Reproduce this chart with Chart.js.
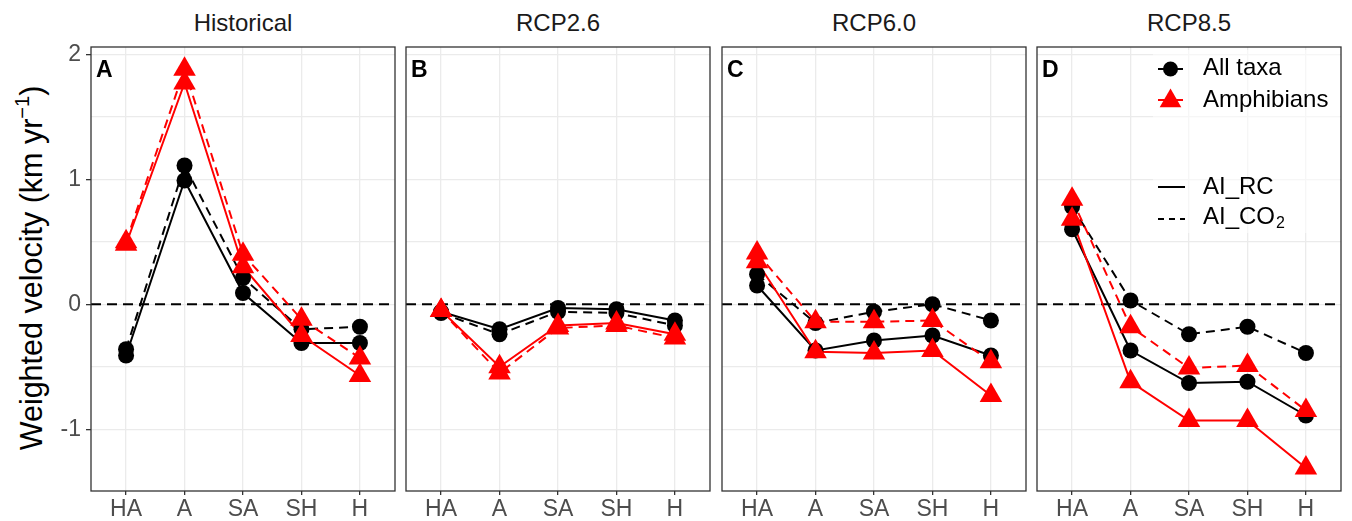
<!DOCTYPE html>
<html>
<head>
<meta charset="utf-8">
<script src="https://cdn.jsdelivr.net/npm/chart.js@4.4.1/dist/chart.umd.min.js"></script>
<style>
html,body{margin:0;padding:0;background:#fff;}
body{width:1352px;height:521px;position:relative;overflow:hidden;font-family:"Liberation Sans",Arial,sans-serif;}
.title{position:absolute;top:10px;font-size:24px;color:#1a1a1a;text-align:center;width:304px;line-height:26px;white-space:nowrap;}
.ylab{position:absolute;left:33px;top:268px;transform:translate(-50%,-50%) rotate(-90deg);font-size:30.5px;white-space:nowrap;color:#000;line-height:36px;}
.ylab .sup{font-size:20px;position:relative;top:-13px;}
canvas{position:absolute;}
</style>
</head>
<body>
<div class="ylab">Weighted velocity (km yr<span class="sup">−1</span>)</div>
<script>
// ---------------- data ----------------
const categories = ['HA', 'A', 'SA', 'SH', 'H'];
const scenarios = ['Historical', 'RCP2.6', 'RCP6.0', 'RCP8.5'];
const panelLetters = ['A', 'B', 'C', 'D'];
const yTickValues = [-1, -0.5, 0, 0.5, 1, 1.5, 2];

// All taxa, AI_RC (solid)
const allTaxaRC_Historical = [-0.41, 0.99, 0.09, -0.31, -0.31];
const allTaxaRC_RCP26      = [-0.06, -0.20, -0.03, -0.04, -0.13];
const allTaxaRC_RCP60      = [0.15, -0.37, -0.29, -0.25, -0.41];
const allTaxaRC_RCP85      = [0.60, -0.37, -0.63, -0.62, -0.89];
// All taxa, AI_CO2 (dashed)
const allTaxaCO2_Historical = [-0.36, 1.11, 0.21, -0.20, -0.18];
const allTaxaCO2_RCP26      = [-0.07, -0.24, -0.06, -0.07, -0.17];
const allTaxaCO2_RCP60      = [0.24, -0.15, -0.06, 0.00, -0.13];
const allTaxaCO2_RCP85      = [0.78, 0.03, -0.24, -0.18, -0.39];
// Amphibians, AI_RC (solid)
const amphRC_Historical = [0.48, 1.77, 0.30, -0.25, -0.57];
const amphRC_RCP26      = [-0.05, -0.50, -0.17, -0.15, -0.24];
const amphRC_RCP60      = [0.34, -0.38, -0.39, -0.37, -0.73];
const amphRC_RCP85      = [0.68, -0.62, -0.93, -0.93, -1.31];
// Amphibians, AI_CO2 (dashed)
const amphCO2_Historical = [0.50, 1.88, 0.40, -0.12, -0.43];
const amphCO2_RCP26      = [-0.05, -0.55, -0.19, -0.17, -0.27];
const amphCO2_RCP60      = [0.41, -0.14, -0.14, -0.13, -0.46];
const amphCO2_RCP85      = [0.84, -0.18, -0.51, -0.49, -0.85];

const legendTaxa = ['All taxa', 'Amphibians'];
const legendMethods = ['AI_RC', 'AI_CO'];

// ---------------- layout / style ----------------
const FONT = '"Liberation Sans", Arial, sans-serif';
const PANEL_LEFT = [91, 406, 722, 1037];
const PANEL_W = 304;
const PANEL_TOP = 47;
const PANEL_BOTTOM = 491;
const CANVAS_TOP = 40;
const RED = '#ff0000', BLACK = '#000000';

const panelSeries = [
  [allTaxaRC_Historical, allTaxaCO2_Historical, amphRC_Historical, amphCO2_Historical],
  [allTaxaRC_RCP26, allTaxaCO2_RCP26, amphRC_RCP26, amphCO2_RCP26],
  [allTaxaRC_RCP60, allTaxaCO2_RCP60, amphRC_RCP60, amphCO2_RCP60],
  [allTaxaRC_RCP85, allTaxaCO2_RCP85, amphRC_RCP85, amphCO2_RCP85]
];
const seriesStyle = [
  {color: BLACK, dash: [], shape: 'circle', r: 8},
  {color: BLACK, dash: [9, 6], shape: 'circle', r: 8},
  {color: RED, dash: [], shape: 'triangle', r: 13},
  {color: RED, dash: [9, 6], shape: 'triangle', r: 13}
];

function toXY(arr) { return arr.map((v, i) => ({x: i, y: v})); }

const panelPlugin = {
  id: 'panelDecor',
  beforeDatasetsDraw(chart) {
    const {ctx, chartArea: a, scales: {y}} = chart;
    const y0 = y.getPixelForValue(0);
    ctx.save();
    ctx.strokeStyle = '#000';
    ctx.lineWidth = 2;
    ctx.setLineDash([10, 6]);
    ctx.beginPath();
    ctx.moveTo(a.left, y0);
    ctx.lineTo(a.right, y0);
    ctx.stroke();
    ctx.restore();
  },
  afterDraw(chart) {
    const {ctx, chartArea: a} = chart;
    const idx = chart.options.plugins.panelDecor.index;
    ctx.save();
    ctx.strokeStyle = '#333333';
    ctx.lineWidth = 1.3;
    ctx.strokeRect(a.left, a.top, a.right - a.left, a.bottom - a.top);
    ctx.fillStyle = '#000';
    ctx.font = 'bold 23px ' + FONT;
    ctx.textBaseline = 'alphabetic';
    ctx.textAlign = 'left';
    ctx.fillText(panelLetters[idx], a.left + 5, a.top + 29.5);
    if (idx === 3) drawLegend(chart);
    ctx.restore();
  }
};

function drawLegend(chart) {
  const {ctx, chartArea: a} = chart;
  const off = chart.canvas.offsetLeft;
  const lx = 1153 - off;
  const top = 50 - CANVAS_TOP;
  ctx.save();
  ctx.fillStyle = 'rgba(255,255,255,0.55)';
  ctx.fillRect(lx, top, a.right - lx - 1, 233 - 50);
  const symX0 = 1158 - off, symX1 = 1183 - off, symC = 1170.5 - off, txtX = 1203 - off;
  const rows = [69, 100, 187, 219].map(v => v - CANVAS_TOP);
  ctx.lineWidth = 2;
  for (let k = 0; k < 2; k++) {
    const col = k === 0 ? BLACK : RED;
    ctx.strokeStyle = col; ctx.fillStyle = col; ctx.setLineDash([]);
    ctx.beginPath(); ctx.moveTo(symX0, rows[k]); ctx.lineTo(symX1, rows[k]); ctx.stroke();
    if (k === 0) {
      ctx.beginPath(); ctx.arc(symC, rows[k], 7.5, 0, Math.PI * 2); ctx.fill();
    } else {
      const r = 12.5, cy = rows[k] + 1;
      ctx.beginPath();
      ctx.moveTo(symC, cy - r);
      ctx.lineTo(symC + r * 0.866, cy + r / 2);
      ctx.lineTo(symC - r * 0.866, cy + r / 2);
      ctx.closePath(); ctx.fill();
    }
  }
  ctx.strokeStyle = BLACK;
  for (let k = 0; k < 2; k++) {
    ctx.setLineDash(k === 0 ? [] : [6, 5]);
    ctx.beginPath(); ctx.moveTo(symX0, rows[k + 2]); ctx.lineTo(symX1 + 2, rows[k + 2]); ctx.stroke();
  }
  ctx.setLineDash([]);
  ctx.fillStyle = '#000';
  ctx.font = '24px ' + FONT;
  ctx.textBaseline = 'middle';
  ctx.textAlign = 'left';
  ctx.fillText(legendTaxa[0], txtX, rows[0] - 1);
  ctx.fillText(legendTaxa[1], txtX, rows[1]);
  ctx.fillText(legendMethods[0], txtX, rows[2]);
  ctx.fillText(legendMethods[1], txtX, rows[3] - 2);
  const w = ctx.measureText(legendMethods[1]).width;
  ctx.font = '16px ' + FONT;
  ctx.fillText('2', txtX + w + 1, rows[3] + 5);
  ctx.restore();
}

scenarios.forEach((s, i) => {
  const d = document.createElement('div');
  d.className = 'title';
  d.style.left = PANEL_LEFT[i] + 'px';
  d.textContent = s;
  document.body.appendChild(d);
});

scenarios.forEach((s, i) => {
  const yAxisW = i === 0 ? PANEL_LEFT[0] : 8;
  const left = PANEL_LEFT[i] - yAxisW;
  const padRight = 4;
  const cw = yAxisW + PANEL_W + padRight;
  const ch = 521 - CANVAS_TOP;
  const padTop = PANEL_TOP - CANVAS_TOP;
  const xAxisH = ch - padTop - (PANEL_BOTTOM - PANEL_TOP);
  const cv = document.createElement('canvas');
  cv.width = cw; cv.height = ch;
  cv.style.width = cw + 'px'; cv.style.height = ch + 'px';
  cv.style.left = left + 'px'; cv.style.top = CANVAS_TOP + 'px';
  document.body.appendChild(cv);

  const datasets = [];
  const series = panelSeries[i];
  series.forEach((arr, k) => {
    const st = seriesStyle[k];
    datasets.push({
      data: toXY(arr), showLine: false, pointStyle: st.shape, pointRadius: st.r,
      pointBackgroundColor: st.color, pointBorderColor: st.color, pointBorderWidth: 0,
      order: st.color === RED ? 0 : 1, clip: false
    });
  });
  series.forEach((arr, k) => {
    const st = seriesStyle[k];
    datasets.push({
      data: toXY(arr), showLine: true, pointRadius: 0, borderColor: st.color,
      borderWidth: 2, borderDash: st.dash, tension: 0,
      order: st.color === RED ? 2 : 3, clip: false
    });
  });

  new Chart(cv, {
    type: 'scatter',
    data: {datasets},
    options: {
      responsive: false, animation: false, devicePixelRatio: 1,
      layout: {autoPadding: false, padding: {top: padTop, right: padRight, left: 0, bottom: 0}},
      events: [],
      plugins: {legend: {display: false}, tooltip: {enabled: false}, panelDecor: {index: i}},
      scales: {
        x: {
          type: 'linear', position: 'bottom', min: -0.6, max: 4.6,
          afterBuildTicks: sc => { sc.ticks = categories.map((c, j) => ({value: j})); },
          afterFit: sc => { sc.height = xAxisH; sc.paddingLeft = 0; sc.paddingRight = 0; sc.paddingTop = 0; sc.paddingBottom = 0; },
          ticks: {callback: v => categories[v], color: '#4d4d4d', font: {size: 23, family: FONT},
                  padding: 1, maxRotation: 0, autoSkip: false},
          grid: {color: '#ebebeb', lineWidth: 1.3, tickLength: 4, tickColor: '#333333', tickWidth: 1.3},
          border: {display: false}
        },
        y: {
          type: 'linear', min: -1.494, max: 2.058,
          afterBuildTicks: sc => { sc.ticks = yTickValues.map(v => ({value: v})); },
          afterFit: sc => { sc.width = yAxisW; sc.paddingTop = 0; sc.paddingBottom = 0; sc.paddingLeft = 0; sc.paddingRight = 0; },
          ticks: {display: i === 0, callback: v => Number.isInteger(v) ? String(v) : '',
                  color: '#4d4d4d', font: {size: 23, family: FONT}, padding: 5},
          grid: {color: '#ebebeb', lineWidth: 1.3, drawTicks: i === 0, tickLength: 5,
                 tickColor: c => (c.tick && Number.isInteger(c.tick.value)) ? '#333333' : 'rgba(0,0,0,0)',
                 tickWidth: 1.3},
          border: {display: false}
        }
      }
    },
    plugins: [panelPlugin]
  });
});
</script>
</body>
</html>
